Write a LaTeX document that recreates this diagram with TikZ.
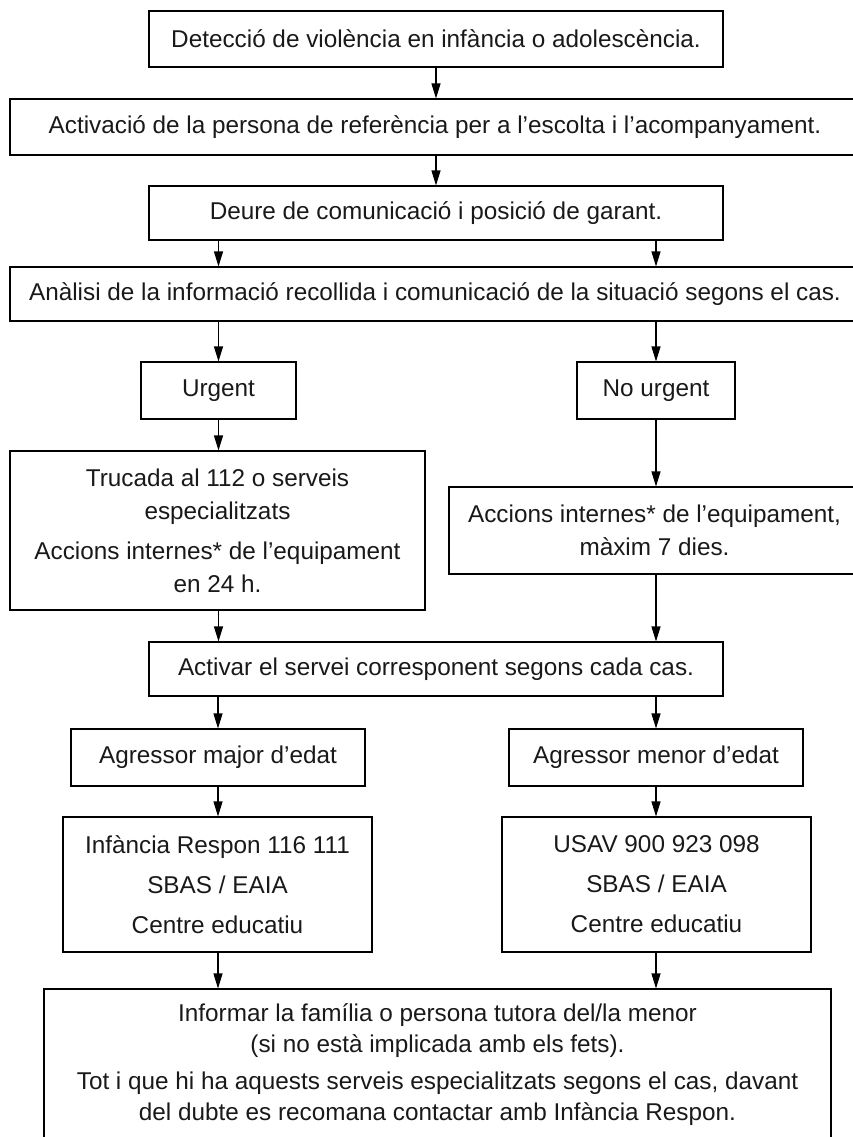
\documentclass[tikz,border=0pt]{standalone}
\usepackage{fontspec}
\setmainfont{Liberation Sans}
\usetikzlibrary{arrows.meta}
\begin{document}
\begin{tikzpicture}[x=1pt,y=-1pt,
  box/.style={draw=black, line width=1.1pt, inner sep=0pt, align=center,
    font=\fontsize{24.3}{33}\selectfont, text=black!90},
  arr/.style={-{Triangle[length=15pt,width=9pt]}, line width=1.1pt, draw=black}]
\useasboundingbox (0,0) rectangle (853,1137);
\node[box, minimum width=574pt, minimum height=56pt] (b1) at (436,39) {Detecció de violència en infància o adolescència.};
\node[box, minimum width=850pt, minimum height=56pt] (b2) at (435,127) {Activació de la persona de referència per a l’escolta i l’acompanyament.};
\node[box, minimum width=574pt, minimum height=54pt] (b3) at (436,213) {Deure de comunicació i posició de garant.};
\node[box, minimum width=850pt, minimum height=54pt] (b4) at (435,294) {Anàlisi de la informació recollida i comunicació de la situació segons el cas.};
\node[box, minimum width=155pt, minimum height=57pt] (urg) at (218.5,390.5) {Urgent};
\node[box, minimum width=158pt, minimum height=57pt] (nurg) at (656,390.5) {No urgent};
\node[box, minimum width=415pt, minimum height=159pt] (truc) at (217.5,530.5) {Trucada al 112 o serveis\\ especialitzats\\[7pt] Accions internes* de l’equipament\\ en 24 h.};
\node[box, minimum width=411pt, minimum height=87pt] (acc) at (654.5,530.5) {Accions internes* de l’equipament,\\ màxim 7 dies.};
\node[box, minimum width=574pt, minimum height=54pt] (act) at (436,669) {Activar el servei corresponent segons cada cas.};
\node[box, minimum width=294pt, minimum height=57pt] (agm) at (218,757.5) {Agressor major d’edat};
\node[box, minimum width=294pt, minimum height=57pt] (agn) at (656,757.5) {Agressor menor d’edat};
\node[box, minimum width=309pt, minimum height=135pt] (svl) at (217.5,884.5) {Infància Respon 116 111\\[7pt] SBAS / EAIA\\[7pt] Centre educatiu};
\node[box, minimum width=309pt, minimum height=135pt] (svr) at (656.5,884.5) {USAV 900 923 098\\[7pt] SBAS / EAIA\\[7pt] Centre educatiu};
\node[box, minimum width=787pt, minimum height=152pt, font=\fontsize{24.3}{31}\selectfont] (bot) at (437.5,1065) {Informar la família o persona tutora del/la menor\\ (si no està implicada amb els fets).\\[6pt] Tot i que hi ha aquests serveis especialitzats segons el cas, davant\\ del dubte es recomana contactar amb Infància Respon.};
\draw[arr] (b1.south) -- (b1.south |- b2.north);
\draw[arr] (b2.south -| b3) -- (b3.north);
\draw[arr] (b3.south -| urg) -- (b4.north -| urg);
\draw[arr] (b3.south -| nurg) -- (b4.north -| nurg);
\draw[arr] (b4.south -| urg) -- (urg.north);
\draw[arr] (b4.south -| nurg) -- (nurg.north);
\draw[arr] (urg.south) -- (truc.north -| urg);
\draw[arr] (nurg.south) -- (acc.north -| nurg);
\draw[arr] (truc.south -| urg) -- (act.north -| urg);
\draw[arr] (acc.south -| nurg) -- (act.north -| nurg);
\draw[arr] (act.south -| agm) -- (agm.north);
\draw[arr] (act.south -| agn) -- (agn.north);
\draw[arr] (agm.south) -- (svl.north -| agm);
\draw[arr] (agn.south) -- (svr.north -| agn);
\draw[arr] (svl.south -| agm) -- (bot.north -| agm);
\draw[arr] (svr.south -| agn) -- (bot.north -| agn);
\end{tikzpicture}
\end{document}
